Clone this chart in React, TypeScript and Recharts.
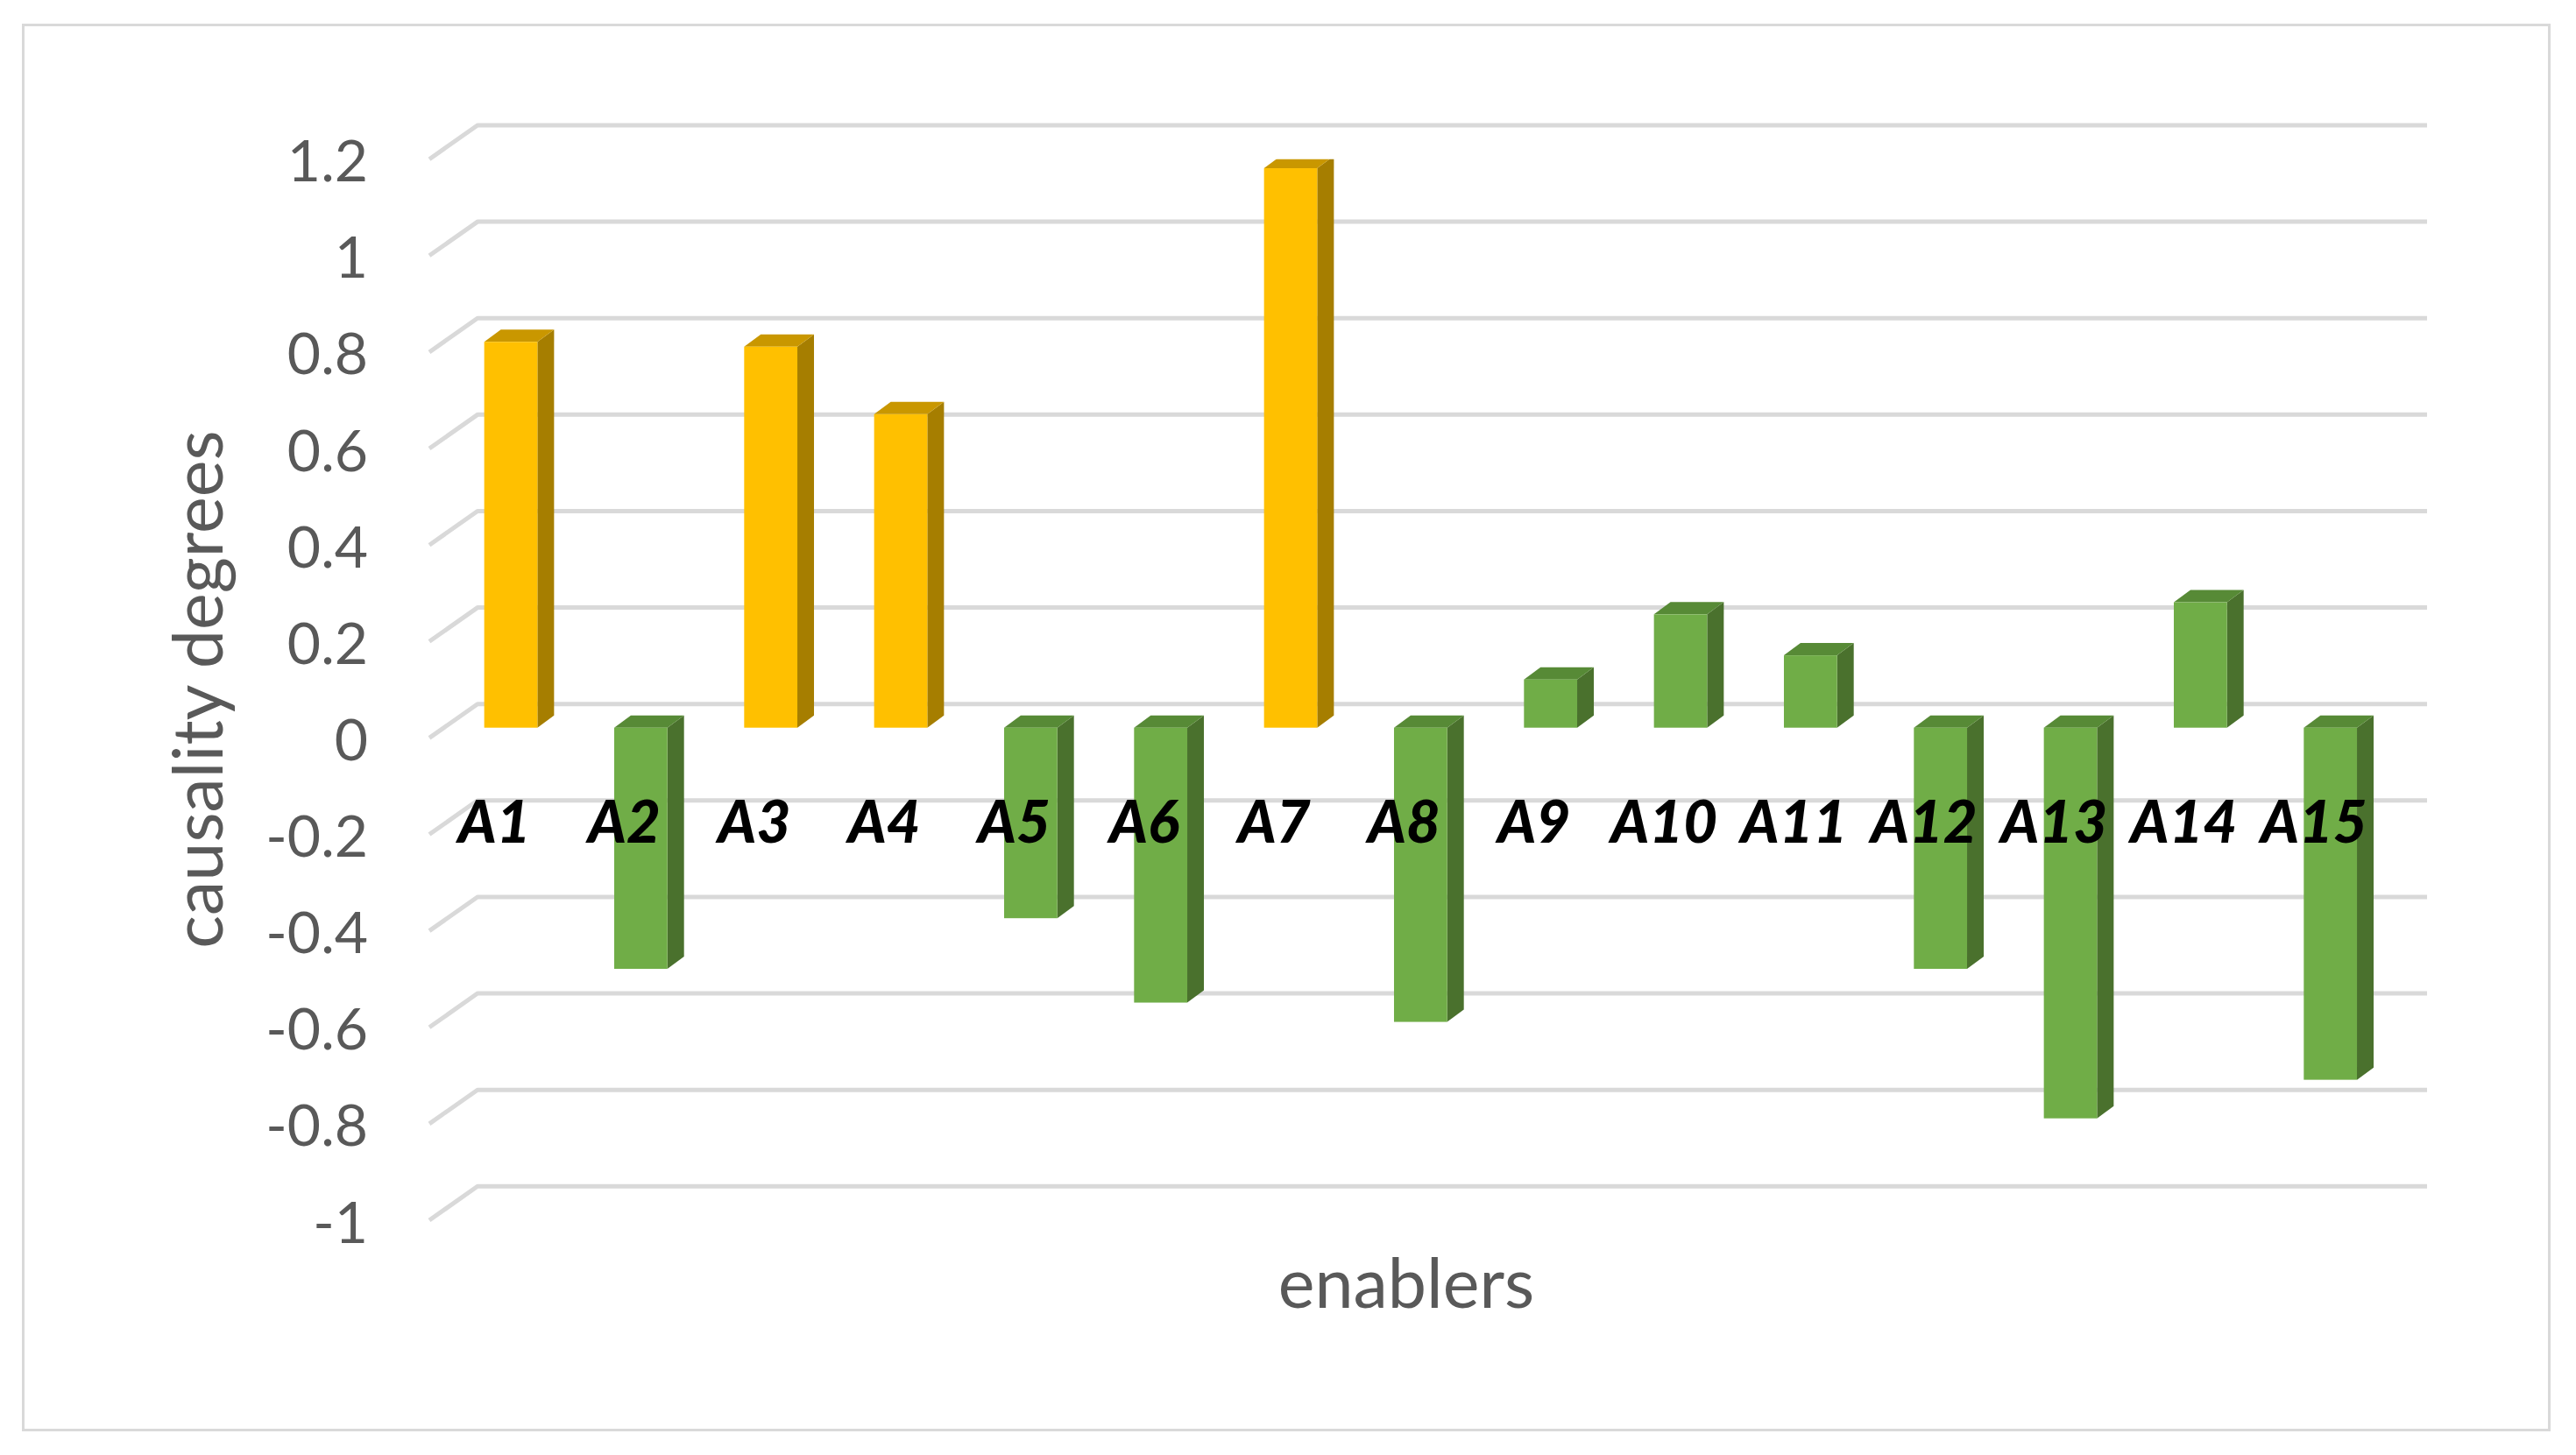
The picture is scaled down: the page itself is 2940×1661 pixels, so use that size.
import React from 'react';
import { BarChart, Bar, XAxis, YAxis, CartesianGrid, Customized } from 'recharts';

// ---- data ----
const enablers = ['A1', 'A2', 'A3', 'A4', 'A5', 'A6', 'A7', 'A8', 'A9', 'A10', 'A11', 'A12', 'A13', 'A14', 'A15'];
const causalityDegrees = [0.8, -0.5, 0.79, 0.65, -0.395, -0.57, 1.16, -0.61, 0.1, 0.235, 0.15, -0.5, -0.81, 0.26, -0.73];
const causeEnablers = ['A1', 'A3', 'A4', 'A7'];
const yTicks = [-1, -0.8, -0.6, -0.4, -0.2, 0, 0.2, 0.4, 0.6, 0.8, 1, 1.2];
const yTickLabels = ['-1', '-0.8', '-0.6', '-0.4', '-0.2', '0', '0.2', '0.4', '0.6', '0.8', '1', '1.2'];
const yAxisTitle = 'causality degrees';
const xAxisTitle = 'enablers';

const data = enablers.map((name, i) => ({ name, value: causalityDegrees[i] }));

// ---- layout / style ----
const W = 2940;
const H = 1661;
const PLOT_LEFT = 490;
const PLOT_RIGHT = 2715;
const PLOT_TOP = 181.7;
const PLOT_BOTTOM = 1393;
const WALL_DX = 55;
const WALL_DY = 38.7;
const BAR_OFF_X = 19;
const BAR_OFF_Y = 11.7;
const BAR_W = 60.7;
const BAR_DX = 19;
const BAR_DY = 14;
const FONT = 'Lato, "Open Sans", sans-serif';
const TEXT_GREY = '#595959';
const GRID = '#d9d9d9';

const YELLOW = { front: '#FFC000', top: '#C99700', side: '#A67E00' };
const GREEN = { front: '#70AD47', top: '#578A36', side: '#4A712D' };

const Bar3D = (props: any) => {
  const { x, y, width, height } = props;
  const name = props.payload?.name ?? props.name;
  const c = causeEnablers.includes(name) ? YELLOW : GREEN;
  const cx = x + width / 2 + BAR_OFF_X;
  const y0 = Math.min(y, y + height) - BAR_OFF_Y;
  const y1 = Math.max(y, y + height) - BAR_OFF_Y;
  const l = cx - BAR_W / 2;
  const r = cx + BAR_W / 2;
  return (
    <g>
      <polygon
        points={`${r},${y0} ${r + BAR_DX},${y0 - BAR_DY} ${r + BAR_DX},${y1 - BAR_DY} ${r},${y1}`}
        fill={c.side}
      />
      <polygon
        points={`${l},${y0} ${l + BAR_DX},${y0 - BAR_DY} ${r + BAR_DX},${y0 - BAR_DY} ${r},${y0}`}
        fill={c.top}
      />
      <rect x={l} y={y0} width={BAR_W} height={y1 - y0} fill={c.front} />
    </g>
  );
};

const GridLine = (props: any) => {
  const { x1, x2, y1 } = props;
  const d = `M ${x1} ${y1} L ${x1 + WALL_DX} ${y1 - WALL_DY} L ${x2 + WALL_DX} ${y1 - WALL_DY}`;
  return <path key={`g-${y1}`} d={d} fill="none" stroke={GRID} strokeWidth={5} strokeLinejoin="round" />;
};

const YTick = (props: any) => {
  const { y, payload } = props;
  const idx = yTicks.findIndex((t) => Math.abs(t - payload.value) < 1e-9);
  const label = idx >= 0 ? yTickLabels[idx] : String(payload.value);
  return (
    <text x={420} y={y + 25.5} textAnchor="end" fontSize={66} fill={TEXT_GREY} fontFamily={FONT}>
      {label}
    </text>
  );
};

const XTick = (props: any) => {
  const { x, payload } = props;
  return (
    <text
      x={x}
      y={962}
      textAnchor="middle"
      fontSize={67}
      fontWeight={900}
      fontStyle="italic"
      fill="#000000"
      fontFamily={FONT}
    >
      {payload.value}
    </text>
  );
};

const Titles = () => (
  <g>
    <text
      transform="translate(254,787) rotate(-90)"
      textAnchor="middle"
      fontSize={79}
      fill={TEXT_GREY}
      fontFamily={FONT}
    >
      {yAxisTitle}
    </text>
    <text x={1605} y={1493} textAnchor="middle" fontSize={79} fill={TEXT_GREY} fontFamily={FONT}>
      {xAxisTitle}
    </text>
  </g>
);

export default function App() {
  return (
    <div style={{ position: 'absolute', left: 0, top: 0, width: W, height: H, background: '#ffffff' }}>
      <div
        style={{
          position: 'absolute',
          left: 25,
          top: 27,
          width: 2886,
          height: 1607,
          border: `3px solid ${GRID}`,
          boxSizing: 'border-box',
        }}
      />
      <div style={{ position: 'absolute', left: 0, top: 0 }}>
        <BarChart
          width={W}
          height={H}
          data={data}
          margin={{ top: PLOT_TOP, right: W - PLOT_RIGHT, bottom: H - PLOT_BOTTOM - 1, left: PLOT_LEFT - 1 }}
          barCategoryGap={0}
        >
          <CartesianGrid vertical={false} horizontal={GridLine} />
          <XAxis
            dataKey="name"
            type="category"
            axisLine={false}
            tickLine={false}
            height={1}
            interval={0}
            tick={<XTick />}
          />
          <YAxis
            type="number"
            domain={[-1, 1.2]}
            ticks={yTicks}
            interval={0}
            axisLine={false}
            tickLine={false}
            width={1}
            allowDataOverflow
            tick={<YTick />}
          />
          <Bar dataKey="value" isAnimationActive={false} shape={<Bar3D />} />
          <Customized component={Titles} />
        </BarChart>
      </div>
    </div>
  );
}
